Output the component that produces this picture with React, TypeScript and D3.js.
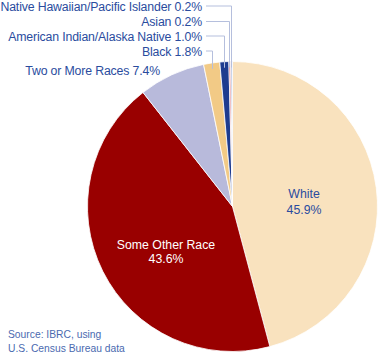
import React from "react";
import * as d3 from "d3";

const categories = [
  "White",
  "Some Other Race",
  "Two or More Races",
  "Black",
  "American Indian/Alaska Native",
  "Asian",
  "Native Hawaiian/Pacific Islander",
];
const values = [45.9, 43.6, 7.4, 1.8, 1.0, 0.2, 0.2];
const colors = ["#F9E2BE", "#990000", "#B8BADB", "#F2CA86", "#1E3C8F", "#D9606A", "#B8C4E0"];

const W = 379, H = 354;
const cx = 232.5, cy = 206.5, R = 145;
const textBlue = "#2A4C9E";
const leader = "#B5BFDD";

export default function App() {
  const total = d3.sum(values);
  const pie = d3.pie<number>().sort(null).value((d) => d).startAngle(0).endAngle((2 * Math.PI * total) / 100);
  const arcs = pie(values);
  const arc = d3.arc<d3.PieArcDatum<number>>().innerRadius(0).outerRadius(R);
  const pt = (a: number, r: number) => [cx + r * Math.sin(a), cy - r * Math.cos(a)];

  const outside = [
    { i: 6, y: 10.5, lx: 231.5 },
    { i: 5, y: 26, lx: 229.5 },
    { i: 4, y: 40.5, lx: 224.5 },
    { i: 3, y: 55.5, lx: 212.5 },
  ];

  return (
    <svg width={W} height={H} style={{ position: "absolute", left: 0, top: 0 }} fontFamily="Liberation Sans, Arial, sans-serif">
      <g transform={`translate(${cx},${cy})`}>
        {arcs.map((a, i) => (
          <path key={i} d={arc(a) || ""} fill={colors[i]} stroke="#fff" strokeWidth={0.8} />
        ))}
      </g>
      {outside.map(({ i, y, lx }) => {
        const a = arcs[i];
        const mid = (a.startAngle + a.endAngle) / 2;
        const [, py] = pt(mid, R - 6);
        return (
          <g key={i}>
            <polyline
              points={`206,${y - 4.5} ${lx},${y - 4.5} ${lx},${py}`}
              fill="none"
              stroke={leader}
              strokeWidth={1}
            />
            <text x={202} y={y} textAnchor="end" fontSize={12.3} letterSpacing={-0.15} fill={textBlue}>
              {`${categories[i]} ${values[i].toFixed(1)}%`}
            </text>
          </g>
        );
      })}
      <text x={160} y={74.5} textAnchor="end" fontSize={12.3} letterSpacing={-0.15} fill={textBlue}>
        {`${categories[2]} ${values[2].toFixed(1)}%`}
      </text>
      <text x={304} y={197.5} textAnchor="middle" fontSize={12.3} fill={textBlue}>{categories[0]}</text>
      <text x={304} y={213.5} textAnchor="middle" fontSize={12.3} fill={textBlue}>{`${values[0].toFixed(1)}%`}</text>
      <text x={166} y={248.5} textAnchor="middle" fontSize={12.3} fill="#fff">{categories[1]}</text>
      <text x={166} y={262.5} textAnchor="middle" fontSize={12.3} fill="#fff">{`${values[1].toFixed(1)}%`}</text>
      <text x={8} y={338} fontSize={10.3} fill="#4A6AB0">Source: IBRC, using</text>
      <text x={8} y={352} fontSize={10.3} fill="#4A6AB0">U.S. Census Bureau data</text>
    </svg>
  );
}
